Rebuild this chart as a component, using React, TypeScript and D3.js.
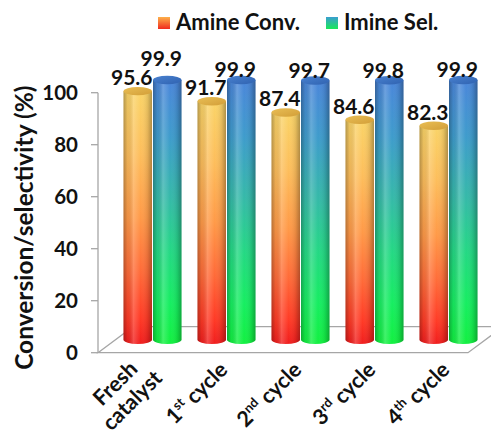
import React, { useEffect, useRef } from "react";
import * as d3 from "d3";

// Catalyst recycling: amine conversion and imine selectivity per run
const categories = ["Fresh\ncatalyst", "1st cycle", "2nd cycle", "3rd cycle", "4th cycle"];
const amineConv = [95.6, 91.7, 87.4, 84.6, 82.3];
const imineSel = [99.9, 99.9, 99.7, 99.8, 99.9];
const seriesNames = ["Amine Conv.", "Imine Sel."];
const yTicks = [0, 20, 40, 60, 80, 100];
const yTitle = "Conversion/selectivity (%)";

const W = 491;
const H = 434;
const FONT = "Lato, 'Open Sans', 'DejaVu Sans', sans-serif";

export default function App() {
  const ref = useRef<SVGSVGElement>(null);

  useEffect(() => {
    const svg = d3.select(ref.current as SVGSVGElement);
    svg.selectAll("*").remove();

    const plot = { left: 98, right: 468, top: 92.7, bottom: 352.7 };
    const depth = { dx: 35, dy: -26 };
    const barW = 28.5;
    const gap = 1;
    const ry = 4.2;

    const y = d3.scaleLinear().domain([0, 100]).range([plot.bottom, plot.top]);
    const x = d3.scaleBand<string>().domain(categories).range([plot.left, plot.right]);

    const defs = svg.append("defs");
    const vGrad = (id: string, stops: [number, string][]) => {
      const g = defs.append("linearGradient").attr("id", id)
        .attr("x1", 0).attr("y1", 0).attr("x2", 0).attr("y2", 1);
      stops.forEach(([o, c]) => g.append("stop").attr("offset", o).attr("stop-color", c));
    };
    vGrad("amineBody", [
      [0, "#FAD468"], [0.25, "#FDBE5C"], [0.5, "#FF9A48"], [0.72, "#FF6A38"], [0.9, "#FF3A26"], [1, "#F01E1E"],
    ]);
    vGrad("imineBody", [
      [0, "#4B86DA"], [0.22, "#3E9CCB"], [0.45, "#35BAA8"], [0.65, "#24D884"], [0.85, "#16EE60"], [1, "#12F040"],
    ]);
    vGrad("amineKey", [[0, "#FDB04A"], [1, "#F02A1E"]]);
    vGrad("imineKey", [[0, "#3A9ED0"], [1, "#18E858"]]);

    const shade = defs.append("linearGradient").attr("id", "shade")
      .attr("x1", 0).attr("y1", 0).attr("x2", 1).attr("y2", 0);
    ([
      [0, "#000", 0.28], [0.15, "#000", 0.06], [0.35, "#fff", 0.2], [0.6, "#fff", 0], [0.85, "#000", 0.1], [1, "#000", 0.3],
    ] as [number, string, number][]).forEach(([o, c, a]) =>
      shade.append("stop").attr("offset", o).attr("stop-color", c).attr("stop-opacity", a));

    const topGrad = (id: string, a: string, b: string) => {
      const g = defs.append("linearGradient").attr("id", id)
        .attr("x1", 0).attr("y1", 0).attr("x2", 1).attr("y2", 1);
      g.append("stop").attr("offset", 0).attr("stop-color", a);
      g.append("stop").attr("offset", 1).attr("stop-color", b);
    };
    topGrad("amineTop", "#E9BE55", "#D29E38");
    topGrad("imineTop", "#4A82D0", "#2F62B0");

    // Floor of the 3-D plot area
    const axisColor = "#a6a6a6";
    const floor = svg.append("g").attr("stroke", axisColor).attr("stroke-width", 1.3).attr("fill", "none");
    const fl = [plot.left, plot.bottom];
    const fr = [plot.right, plot.bottom];
    const br = [plot.right + depth.dx, plot.bottom + depth.dy];
    const bl = [plot.left + depth.dx, plot.bottom + depth.dy];
    floor.append("path").attr("d", `M${fl}L${bl}L${br}L${fr}Z`);

    // Value axis
    const axis = svg.append("g").attr("stroke", axisColor).attr("stroke-width", 1.3);
    axis.append("line").attr("x1", plot.left).attr("x2", plot.left).attr("y1", y(100)).attr("y2", y(0));
    axis.selectAll("line.tick").data(yTicks).join("line").attr("class", "tick")
      .attr("x1", plot.left - 7).attr("x2", plot.left).attr("y1", (d) => y(d)).attr("y2", (d) => y(d));
    svg.append("g").selectAll("text").data(yTicks).join("text")
      .attr("x", 78).attr("y", (d) => y(d) + 7.5)
      .attr("text-anchor", "end")
      .attr("font-family", FONT).attr("font-weight", 700).attr("font-size", 20.5).attr("fill", "#111")
      .text((d) => d);

    svg.append("text")
      .attr("transform", `translate(33,${(y(0) + y(100)) / 2 + 5}) rotate(-90)`)
      .attr("text-anchor", "middle")
      .attr("font-family", FONT).attr("font-weight", 700).attr("font-size", 24.5).attr("fill", "#111")
      .text(yTitle);

    // Cylinders
    const baseY = y(0) + depth.dy / 2;
    const bars = svg.append("g");
    const series = [
      { values: amineConv, body: "amineBody", top: "amineTop", side: -1, lift: 6 },
      { values: imineSel, body: "imineBody", top: "imineTop", side: 1, lift: 2.5 },
    ];
    const capH = 15;
    const labelPos: { x: number; y: number; text: string }[][] = [[], []];
    categories.forEach((cat, i) => {
      const center = (x(cat) as number) + x.bandwidth() / 2 + depth.dx / 2;
      series.forEach((s, si) => {
        const v = s.values[i];
        const cx = center + s.side * (barW + gap) / 2;
        const l = cx - barW / 2;
        const r = cx + barW / 2;
        const yt = y(v) + depth.dy / 2;
        const body = `M${l},${yt}L${l},${baseY}A${barW / 2},${ry} 0 0 0 ${r},${baseY}L${r},${yt}Z`;
        bars.append("path").attr("d", body).attr("fill", `url(#${s.body})`);
        bars.append("path").attr("d", body).attr("fill", "url(#shade)");
        bars.append("ellipse").attr("cx", cx).attr("cy", yt).attr("rx", barW / 2).attr("ry", ry)
          .attr("fill", `url(#${s.top})`);
        labelPos[si].push({ x: cx - 6, y: yt - s.lift, text: v.toFixed(1) });
      });
      // lift the selectivity label above the conversion label when they collide
      const a = labelPos[0][i];
      const b = labelPos[1][i];
      if (b.y > a.y - capH) b.y = a.y - capH - 4;
    });

    const labels = svg.append("g")
      .attr("font-family", FONT).attr("font-weight", 700).attr("font-size", 21).attr("fill", "#111")
      .attr("text-anchor", "middle");
    labelPos.flat().forEach((p) => labels.append("text").attr("x", p.x).attr("y", p.y).text(p.text));

    // Category labels, rotated 45 degrees with ordinal superscripts
    const lh = 24;
    categories.forEach((cat) => {
      const g = svg.append("g")
        .attr("transform", `translate(${(x(cat) as number) + x.bandwidth() / 2 + 20},371) rotate(-45)`)
        .attr("font-family", FONT).attr("font-weight", 700).attr("font-size", 21.5).attr("fill", "#111");
      const lines = cat.split("\n");
      const nodes = lines.map((line, li) => {
        const t = g.append("text").attr("text-anchor", "end").attr("y", (li - (lines.length - 1) / 2) * lh);
        const m = line.match(/^(\d+)(st|nd|rd|th)(\s.*)$/);
        if (m) {
          t.append("tspan").text(m[1]);
          t.append("tspan").attr("font-size", 13).attr("dy", -8).text(m[2]);
          t.append("tspan").attr("dy", 8).text(m[3]);
        } else {
          t.text(line);
        }
        return t;
      });
      const widths = nodes.map((t) => (t.node() as SVGTextElement).getComputedTextLength());
      const maxW = Math.max(...widths);
      nodes.forEach((t, k) => t.attr("x", -(maxW - widths[k]) / 2));
    });

    // Legend
    const legend = svg.append("g")
      .attr("font-family", FONT).attr("font-weight", 700).attr("font-size", 22).attr("fill", "#111");
    const keyX = [158, 326];
    seriesNames.forEach((name, i) => {
      legend.append("rect").attr("x", keyX[i]).attr("y", 17).attr("width", 12).attr("height", 12)
        .attr("fill", `url(#${i === 0 ? "amineKey" : "imineKey"})`);
      legend.append("text").attr("x", keyX[i] + 18).attr("y", 29.5).text(name);
    });
  }, []);

  return (
    <svg
      ref={ref}
      width={W}
      height={H}
      style={{ position: "absolute", left: 0, top: 0, background: "#fff" }}
    />
  );
}
